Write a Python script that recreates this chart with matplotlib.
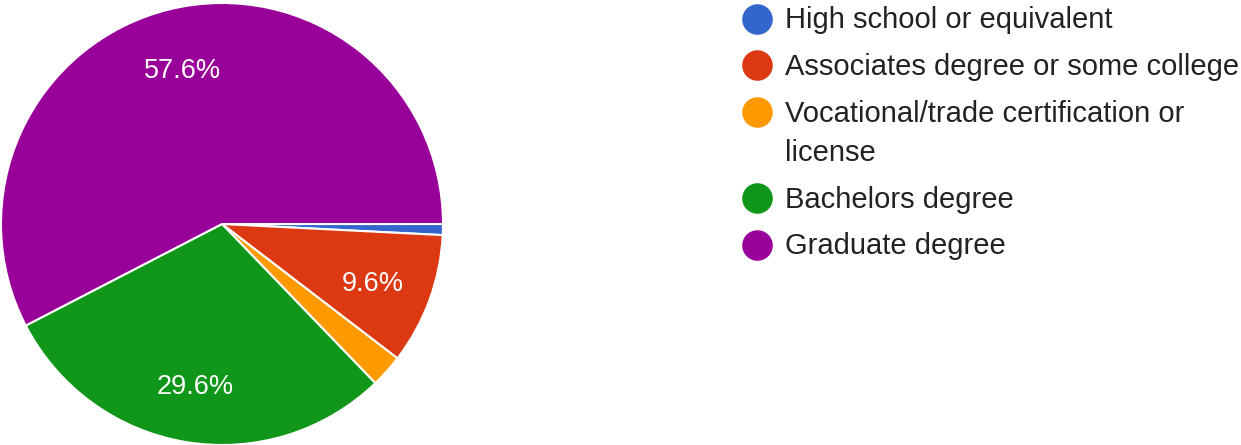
import matplotlib.pyplot as plt

# survey answers (count out of 125 responses)
labels = ['High school or equivalent',
          'Associates degree or some college',
          'Vocational/trade certification or\nlicense',
          'Bachelors degree',
          'Graduate degree']
counts = [1, 12, 3, 37, 72]
colors = ['#3366cc', '#dc3912', '#ff9900', '#109618', '#990099']

W, H = 1241, 445
fig = plt.figure(figsize=(W / 100, H / 100), dpi=100)
ax = fig.add_axes([0, 0, 1, 1])

font = 'Liberation Sans'


def pct_label(p):
    # google hides labels on thin slices
    return f'{p:.1f}%' if p >= 5 else ''


wedges, texts, autotexts = ax.pie(
    counts,
    colors=colors,
    startangle=0,
    counterclock=False,
    center=(222, 221),
    radius=221,
    autopct=pct_label,
    pctdistance=0.73,
    wedgeprops=dict(edgecolor='white', linewidth=1.5),
    textprops=dict(color='white', fontsize=19.5, family=font),
    frame=True,
)
# nudge the percent labels down a little
for t in autotexts:
    x0, y0 = t.get_position()
    t.set_position((x0 - 1, y0 - 4))

ax.set_xlim(0, W)
ax.set_ylim(0, H)
ax.set_aspect('equal')
ax.set_axis_off()

# legend drawn by hand to keep google forms layout
y = H - 18.7
for lab, col in zip(labels, colors):
    ax.plot(757, y, 'o', color=col, markersize=21, clip_on=False)
    for i, line in enumerate(lab.split('\n')):
        ax.text(785, y - 1.5 - i * 39.5, line, fontsize=21, family=font,
                color='#222222', va='center', ha='left')
    nlines = lab.count('\n') + 1
    y -= 46.7 + (nlines - 1) * 39.5

fig.savefig('out.png', dpi=100)
